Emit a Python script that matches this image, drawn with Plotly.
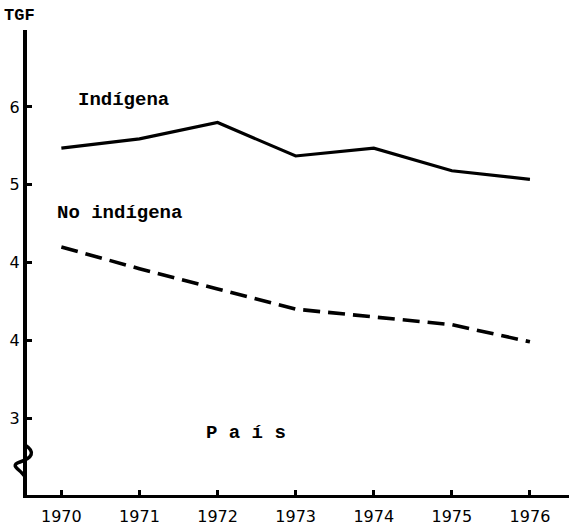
import plotly.graph_objects as go

years = [1970, 1971, 1972, 1973, 1974, 1975, 1976]
indigena = [5.47, 5.59, 5.80, 5.37, 5.47, 5.18, 5.07]
no_indigena = [4.20, 3.92, 3.66, 3.40, 3.30, 3.20, 2.98]
y_tick_vals = [6, 5, 4, 3, 2]
y_tick_text = ["6", "5", "4", "4", "3"]
x_tick_text = ["1970", "1971", "1972", "1973", "1974", "1975", "1976"]

W, H = 569, 531
L, R, T, B = 27, 0, 30, 36

fig = go.Figure()
fig.add_trace(go.Scatter(x=years, y=indigena, mode="lines",
                         line=dict(color="black", width=3.2), showlegend=False))
fig.add_trace(go.Scatter(x=years, y=no_indigena, mode="lines",
                         line=dict(color="black", width=3.6, dash="17px,8px"), showlegend=False))

mono = dict(family="Liberation Mono, Courier New, monospace", size=19, color="black")
fig.add_annotation(x=1970.79, y=6.09, text="<b>Indígena</b>", showarrow=False, font=mono)
fig.add_annotation(x=1970.74, y=4.64, text="<b>No indígena</b>", showarrow=False, font=mono)
fig.add_annotation(x=1972.37, y=1.81, text="<b>P a í s</b>", showarrow=False, font=mono)
fig.add_annotation(xref="paper", yref="paper", x=-0.013, y=1.055, xanchor="center", text="<b>TGF</b>",
                   showarrow=False, font=dict(family="Liberation Mono, monospace", size=17, color="black"))

# axis break zigzag
def px(xp):
    return (xp - L) / (W - L - R)

def py(yp):
    return (H - B - yp) / (H - B - T)

path = (f"M {px(25)} {py(445)} C {px(36)} {py(452)}, {px(32)} {py(458)}, {px(20)} {py(462)} "
        f"C {px(8)} {py(466)}, {px(22)} {py(470)}, {px(24)} {py(476)}")
fig.add_shape(type="path", xref="paper", yref="paper", path=path,
              line=dict(color="black", width=3.5))

fig.update_layout(
    width=W, height=H,
    margin=dict(l=L, r=R, t=T, b=B, autoexpand=False),
    paper_bgcolor="white", plot_bgcolor="white",
    font=dict(family="DejaVu Sans", size=15, color="black"),
    xaxis=dict(range=[1969.56, 1976.5], tickvals=years, ticktext=x_tick_text, automargin=False,
               showgrid=False, zeroline=False, showline=True, linecolor="black", linewidth=3,
               ticks="inside", ticklen=5, tickwidth=3, tickcolor="black", ticklabelstandoff=5,
               tickfont=dict(family="DejaVu Sans", size=16)),
    yaxis=dict(range=[1.01, 6.99], tickvals=y_tick_vals, ticktext=y_tick_text, automargin=False,
               showgrid=False, zeroline=False, showline=True, linecolor="black", linewidth=4,
               ticks="inside", ticklen=5, tickwidth=3, tickcolor="black", ticklabelstandoff=0,
               tickfont=dict(family="DejaVu Sans", size=16)),
)

fig.write_html("out.html", config={"displayModeBar": False},
               post_script="document.body.style.margin='0';")
